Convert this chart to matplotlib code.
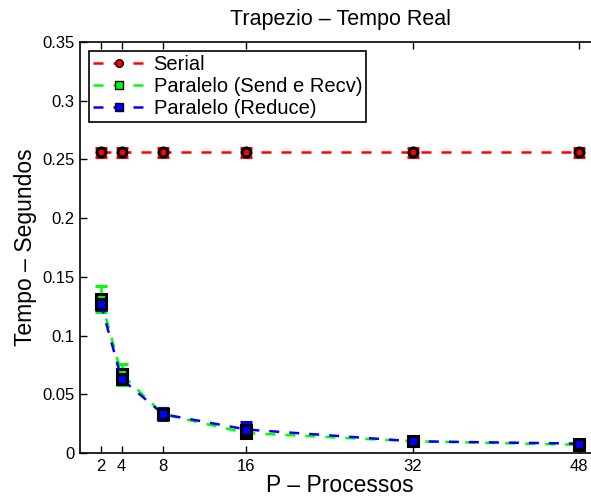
import matplotlib
matplotlib.use("Agg")
import matplotlib.pyplot as plt
from matplotlib.lines import Line2D

plt.rcParams['font.family'] = ['Liberation Sans', 'DejaVu Sans']

procs = [2, 4, 8, 16, 32, 48]
serial = [0.256, 0.256, 0.256, 0.256, 0.256, 0.256]
serial_err = [0.004, 0.004, 0.004, 0.004, 0.004, 0.004]
send_recv = [0.131, 0.067, 0.033, 0.017, 0.010, 0.007]
send_recv_err = [0.011, 0.009, 0.004, 0.003, 0.002, 0.002]
reduce_ = [0.127, 0.063, 0.033, 0.020, 0.010, 0.008]
reduce_err = [0.005, 0.004, 0.005, 0.006, 0.002, 0.002]

W, H = 591, 498
fig = plt.figure(figsize=(W / 100, H / 100), dpi=100)
# axes run a little past the right edge, as in the reference
ax = fig.add_axes([80 / W, 45 / H, 520 / W, 411 / H])

series = [
    (serial, serial_err, 'red', 'o', 'Serial'),
    (send_recv, send_recv_err, '#00ff00', 's', 'Paralelo (Send e Recv)'),
    (reduce_, reduce_err, 'blue', 's', 'Paralelo (Reduce)'),
]
handles = []
for vals, err, col, mk, lab in series:
    ax.errorbar(procs, vals, yerr=err, color=col, ls=(0, (4, 4)), lw=1.8,
                marker=mk, ms=6.5, mfc=col, mec='black',
                mew=2.2, ecolor=col, elinewidth=1.8, capsize=4, capthick=1.8)
    handles.append(Line2D([], [], color=col, ls=(0, (4, 4)), lw=1.8,
                          marker=mk, ms=5.5, mfc=col, mec='black', mew=1,
                          label=lab))

ax.set_xlim(0, 50)
ax.set_ylim(0, 0.35)
ax.set_xticks(procs)
ax.set_yticks([0, 0.05, 0.1, 0.15, 0.2, 0.25, 0.3, 0.35])
ax.set_yticklabels(['0', '0.05', '0.1', '0.15', '0.2', '0.25', '0.3', '0.35'])
ax.tick_params(direction='in', top=True, right=True, length=5, width=1,
               labelsize=12, pad=4)
for s in ax.spines.values():
    s.set_linewidth(1.2)

ax.set_title('Trapezio \u2013 Tempo Real', fontsize=15.5, pad=12)
ax.set_xlabel('P \u2013 Processos', fontsize=16.5, labelpad=0)
ax.set_ylabel('Tempo \u2013 Segundos', fontsize=16.5, labelpad=4)

leg = ax.legend(handles=handles, loc='upper left', fontsize=14.5,
                handlelength=2.6, fancybox=False, framealpha=1,
                edgecolor='black', borderaxespad=0.45, labelspacing=0.15,
                handletextpad=0.4, borderpad=0.2)
leg.get_frame().set_linewidth(1.2)

fig.savefig('out.png', dpi=100)
